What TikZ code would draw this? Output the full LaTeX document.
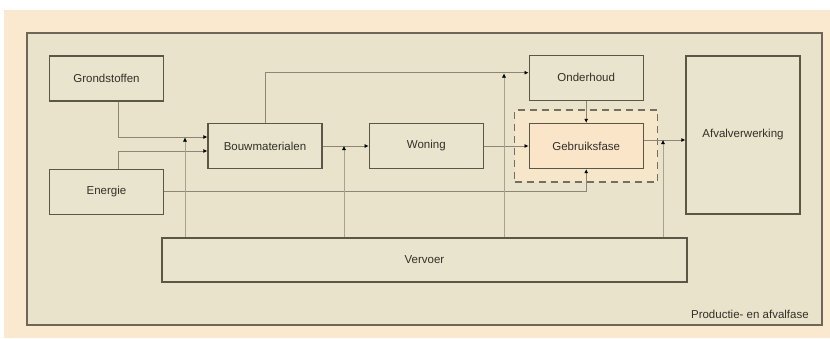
\documentclass[tikz,border=0pt]{standalone}
\usepackage{fontspec}
\setmainfont{Liberation Sans}
\usepackage{tikz}
\usetikzlibrary{arrows.meta}
\usetikzlibrary{positioning}
\definecolor{pagebg}{RGB}{250,233,206}
\definecolor{kaderfill}{RGB}{232,227,202}
\definecolor{blokfill}{RGB}{233,228,205}
\definecolor{fasefill}{RGB}{250,229,201}
\definecolor{zonefill}{RGB}{246,230,202}
\definecolor{rand}{RGB}{92,86,68}
\definecolor{lijn}{RGB}{140,134,114}
\definecolor{vlijn}{RGB}{168,162,145}
\definecolor{tekst}{RGB}{50,48,40}
\tikzset{
    blok/.style={
           rectangle,
           draw=rand, line width=1.3pt,
           fill=blokfill,
           minimum width=114pt, minimum height=45pt,
           inner sep=2pt,
           text centered,
           },
}
\tikzset{
    fase/.style={
           blok,
           fill=fasefill,
           },
}
\tikzset{
    zone/.style={
           rectangle,
           draw=rand!85, line width=1.5pt,
           dash pattern=on 7pt off 5pt,
           fill=zonefill,
           minimum width=143pt, minimum height=72pt,
           },
}
\tikzset{
    kader/.style={
           rectangle,
           draw=rand!90, line width=1.8pt,
           fill=kaderfill,
           minimum width=795pt, minimum height=292pt,
           },
}
\tikzset{
    stroom/.style={
           draw=lijn, line width=0.8pt,
           -{Latex[length=4pt,width=4pt,black]},
           },
}
\tikzset{
    transport/.style={
           draw=vlijn, line width=0.5pt,
           -{Latex[length=4pt,width=4pt,black]},
           },
}

\begin{document}
\begin{tikzpicture}[x=1pt,y=-1pt,font=\fontsize{11.5}{13.5}\selectfont,text=tekst]
\useasboundingbox (0,0) rectangle (830,338);
\fill[white] (0,0) rectangle (830,338);
\fill[pagebg] (4,10) rectangle (830,338);
\node[kader](fase) at (424.5,179){};
\node[anchor=base east,inner sep=0pt,xshift=-14pt,yshift=7pt](label) at (fase.south east){Productie- en afvalfase};
\node[blok](grond) at (106.5,78.5){Grondstoffen};
\node[blok,below=67pt of grond](energie){Energie};
\node[blok](bouw) at (265,146){Bouwmaterialen};
\node[blok,right=46pt of bouw](woning){Woning};
\node[zone,right=30pt of woning](zone){};
\node[fase](gebruik) at (zone.center){Gebruiksfase};
\node[blok,above=22pt of gebruik](onderhoud){Onderhoud};
\node[blok,minimum height=158pt](afval) at (743,135){Afvalverwerking};
\node[blok,minimum width=525pt,minimum height=44pt](vervoer) at (424.5,260){Vervoer};
\coordinate (v1) at (185,137.5);
\coordinate (v2) at (344,146);
\coordinate (v3) at (504,73.5);
\coordinate (v4) at (663,140);
\draw[stroom] ([xshift=12pt]grond.south) |- ([yshift=9pt]bouw.west);
\draw[stroom] ([xshift=12pt]energie.north) |- ([yshift=-5pt]bouw.west);
\draw[stroom] (energie.east) -| (gebruik.south);
\draw[stroom] (bouw.north) |- ([yshift=5pt]onderhoud.west);
\draw[stroom] (bouw) -- (woning);
\draw[stroom] (woning) -- (gebruik);
\draw[stroom] (onderhoud) -- (gebruik);
\draw[stroom] ([yshift=6pt]gebruik.east) -- ([yshift=6pt]gebruik.east -| afval.west);
\draw[transport] (vervoer.north -| v1) -- (v1);
\draw[transport] (vervoer.north -| v2) -- (v2);
\draw[transport] (vervoer.north -| v3) -- (v3);
\draw[transport] (vervoer.north -| v4) -- (v4);
\end{tikzpicture}
\end{document}
